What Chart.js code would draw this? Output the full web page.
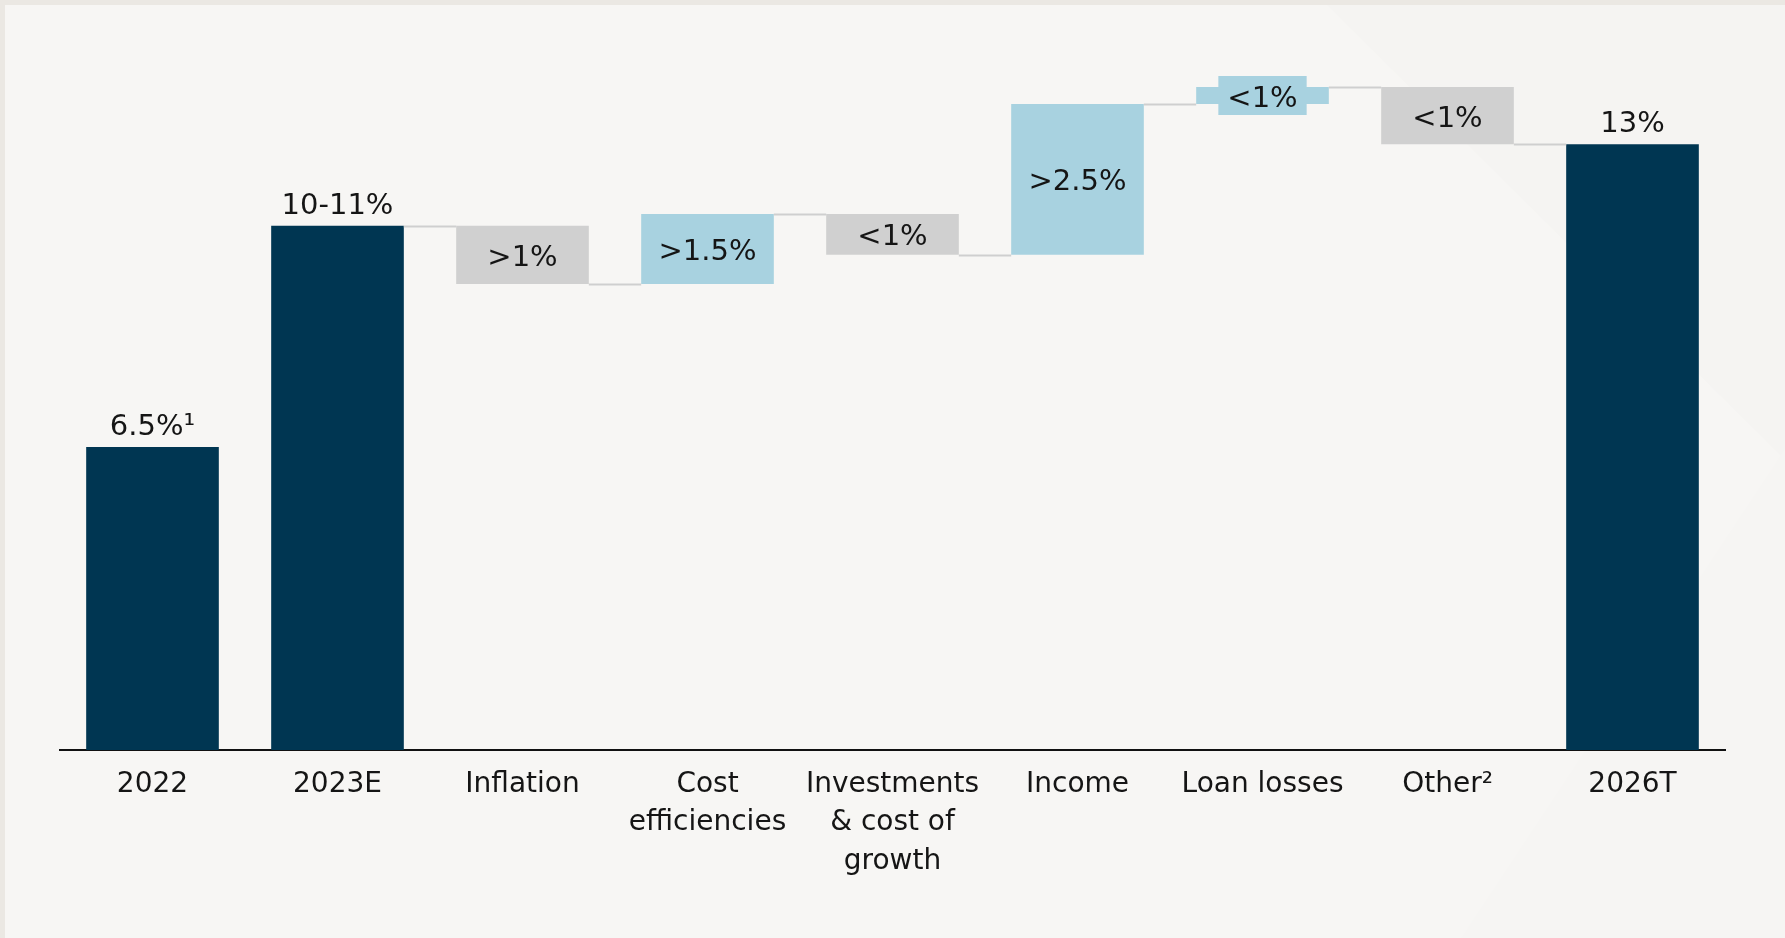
<!DOCTYPE html>
<html><head><meta charset="utf-8">
<script src="https://cdn.jsdelivr.net/npm/chart.js@4/dist/chart.umd.min.js"></script>
<style>
html,body{margin:0;padding:0;width:1785px;height:938px;overflow:hidden;background:#ebe8e3;}
#bg{position:absolute;left:5px;top:5px;width:1780px;height:933px;background:#f7f6f4;}
.deco{position:absolute;left:0;top:0;width:1785px;height:938px;background:#f5f4f2;}
#deco1{clip-path:polygon(1327px 5px,1785px 5px,1785px 460px);}
#deco2{clip-path:polygon(1461px 938px,1785px 449px,1785px 938px);background:#f6f5f3;}
#wrap{position:absolute;left:0;top:0;width:1785px;height:938px;}
</style></head>
<body>
<div id="bg"></div><div class="deco" id="deco1"></div><div class="deco" id="deco2"></div>
<div id="wrap"><canvas id="c" width="1785" height="938"></canvas></div>
<script>
// ---- data ----
const categories = ['2022', '2023E', 'Inflation', ['Cost', 'efficiencies'], ['Investments', '& cost of', 'growth'], 'Income', 'Loan losses', 'Other\u00B2', '2026T'];
const value2022 = 6.5;
const value2023E = 11.25;
const deltas = [-1.25, 1.5, -0.87, 3.23, 0.37, -1.23];   // Inflation .. Other
const value2026T = 13;
const valueLabels = ['6.5%\u00B9', '10-11%', '>1%', '>1.5%', '<1%', '>2.5%', '<1%', '<1%', '13%'];

// ---- derived ----
const NAVY = '#003652', BLUE = '#a8d2e0', GREY = '#d0d0d0';
const ranges = [[0, value2022], [0, value2023E]];
const kinds = ['total', 'total'];
const levels = [value2022, value2023E];
let running = value2023E;
deltas.forEach(d => {
  const next = running + d;
  ranges.push([Math.min(running, next), Math.max(running, next)]);
  kinds.push(d >= 0 ? 'up' : 'down');
  running = next;
  levels.push(next);
});
ranges.push([0, value2026T]);
kinds.push('total');
levels.push(value2026T);
const colors = kinds.map(k => k === 'total' ? NAVY : (k === 'up' ? BLUE : GREY));

const waterfallPlugin = {
  id: 'waterfall',
  afterDatasetsDraw(chart) {
    const ctx = chart.ctx;
    const ys = chart.scales.y;
    const bars = chart.getDatasetMeta(0).data;
    ctx.save();
    // connectors
    ctx.strokeStyle = '#cfcfcf';
    ctx.lineWidth = 2;
    for (let i = 1; i < bars.length - 1; i++) {
      const a = bars[i], b = bars[i + 1];
      const y = Math.round(ys.getPixelForValue(levels[i])) + 0.5;
      ctx.beginPath();
      ctx.moveTo(a.x + a.width / 2, y);
      ctx.lineTo(b.x - b.width / 2, y);
      ctx.stroke();
    }
    // labels
    ctx.font = '29px "DejaVu Sans"';
    ctx.textAlign = 'center';
    ctx.textBaseline = 'alphabetic';
    bars.forEach((bar, i) => {
      const top = ys.getPixelForValue(ranges[i][1]);
      const bottom = ys.getPixelForValue(ranges[i][0]);
      const txt = valueLabels[i];
      if (kinds[i] === 'total') {
        ctx.fillStyle = '#151515';
        ctx.fillText(txt, bar.x, top - 12);
      } else {
        const cy = (top + bottom) / 2;
        const w = ctx.measureText(txt).width;
        if (bottom - top < 36) {
          ctx.fillStyle = colors[i];
          ctx.fillRect(bar.x - w / 2 - 9, cy - 19.5, w + 18, 39);
        }
        ctx.fillStyle = '#151515';
        ctx.fillText(txt, bar.x, cy + 11);
      }
    });
    ctx.restore();
  }
};

new Chart(document.getElementById('c'), {
  type: 'bar',
  data: {
    labels: categories,
    datasets: [{
      data: ranges,
      backgroundColor: colors,
      borderWidth: 0,
      barPercentage: 0.717,
      categoryPercentage: 1
    }]
  },
  options: {
    responsive: false,
    animation: false,
    devicePixelRatio: 1,
    layout: { padding: { left: 60, right: 60, top: 51, bottom: 0 } },
    plugins: { legend: { display: false }, tooltip: { enabled: false } },
    scales: {
      x: {
        grid: { display: false, drawTicks: false },
        border: { display: true, color: '#111111', width: 2 },
        ticks: {
          color: '#151515',
          font: { family: 'DejaVu Sans', size: 28, lineHeight: 1.382 },
          padding: 15,
          maxRotation: 0,
          autoSkip: false
        },
        afterFit(scale) { scale.height = 188; }
      },
      y: { display: false, min: 0, max: 15 }
    }
  },
  plugins: [waterfallPlugin]
});
</script>
</body></html>
